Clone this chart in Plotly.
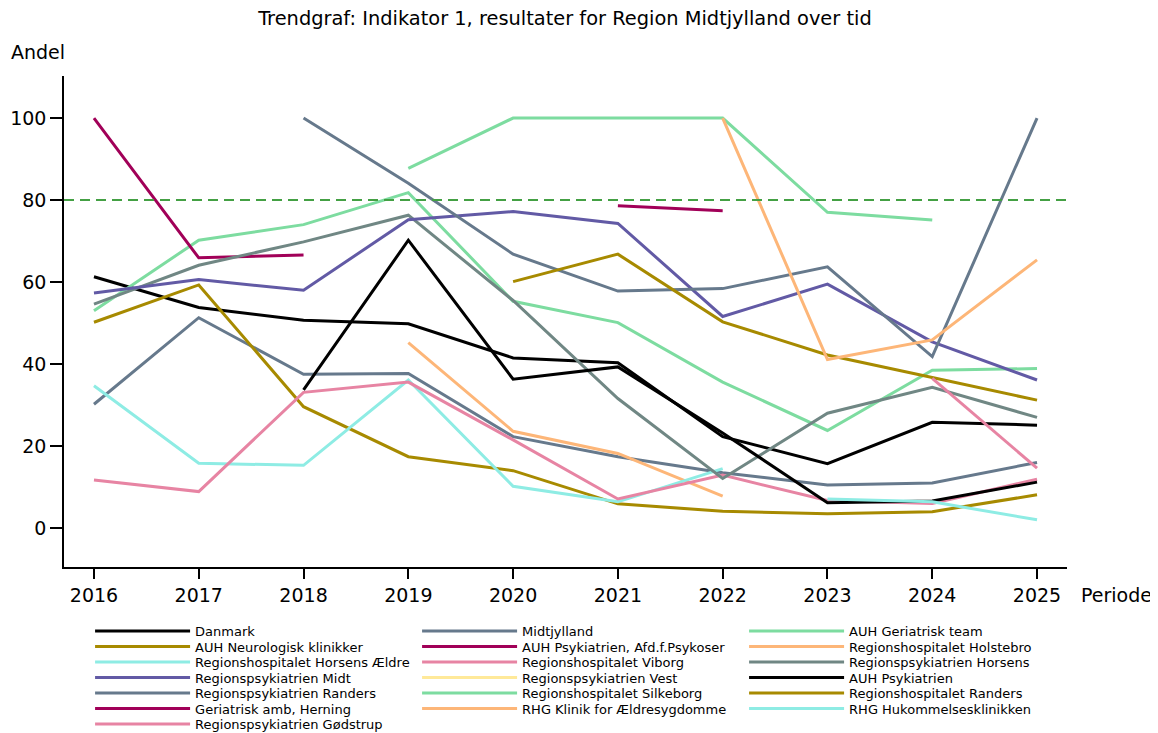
import plotly.graph_objects as go

years = [2016, 2017, 2018, 2019, 2020, 2021, 2022, 2023, 2024, 2025]
N = None

series_names = [
    "Danmark", "Midtjylland", "AUH Geriatrisk team",
    "AUH Neurologisk klinikker", "AUH Psykiatrien, Afd.f.Psykoser", "Regionshospitalet Holstebro",
    "Regionshospitalet Horsens Ældre", "Regionshospitalet Viborg", "Regionspsykiatrien Horsens",
    "Regionspsykiatrien Midt", "Regionspsykiatrien Vest", "AUH Psykiatrien",
    "Regionspsykiatrien Randers", "Regionshospitalet Silkeborg", "Regionshospitalet Randers",
    "Geriatrisk amb, Herning", "RHG Klinik for Ældresygdomme", "RHG Hukommelsesklinikken",
    "Regionspsykiatrien Gødstrup",
]

danmark = [61.3, 53.8, 50.7, 49.8, 41.5, 40.3, 22.3, 15.7, 25.8, 25.1]
midtjylland = [30.2, 51.3, 37.5, 37.7, 22.3, 17.4, 13.5, 10.5, 11.0, 16.0]
auh_geriatrisk = [53.0, 70.2, 74.0, 81.8, 55.3, 50.1, 35.6, 23.8, 38.5, 38.9]
auh_neuro = [50.2, 59.3, 29.6, 17.4, 14.0, 5.9, 4.1, 3.5, 4.0, 8.1]
auh_psyk_afd = [100.0, 65.9, 66.6, N, N, N, N, N, N, N]
holstebro = [N, N, N, 45.2, 23.6, 18.2, 7.8, N, N, N]
horsens_aeldre = [34.7, 15.8, 15.3, 36.1, 10.2, 6.4, 14.5, N, N, N]
viborg = [11.7, 8.9, 33.1, 35.6, 21.5, 7.1, 12.9, 6.7, 6.0, 11.9]
rpsyk_horsens = [54.6, 64.1, 69.8, 76.3, 55.5, 31.6, 12.1, 28.0, 34.3, 27.0]
rpsyk_midt = [57.3, 60.6, 58.0, 75.2, 77.2, 74.3, 51.6, 59.5, 45.4, 36.1]
rpsyk_vest = [N, N, N, N, N, N, N, N, N, N]
auh_psykiatrien = [N, N, 33.7, 70.2, 36.3, 39.3, 23.2, 6.2, 6.6, 11.2]
rpsyk_randers = [N, N, 100.0, 84.1, 66.8, 57.8, 58.4, 63.7, 41.8, 100.0]
silkeborg = [N, N, N, 87.7, 100.0, 100.0, 100.0, 77.0, 75.1, N]
hosp_randers = [N, N, N, N, 60.1, 66.8, 50.3, 42.2, 36.7, 31.2]
herning = [N, N, N, N, N, 78.6, 77.4, N, N, N]
rhg_klinik = [N, N, N, N, N, N, 100.0, 41.1, 45.9, 65.4]
rhg_hukommelse = [N, N, N, N, N, N, N, 7.1, 6.4, 2.0]
godstrup = [N, N, N, N, N, N, N, N, 36.5, 14.6]

series_values = [
    danmark, midtjylland, auh_geriatrisk, auh_neuro, auh_psyk_afd, holstebro,
    horsens_aeldre, viborg, rpsyk_horsens, rpsyk_midt, rpsyk_vest, auh_psykiatrien,
    rpsyk_randers, silkeborg, hosp_randers, herning, rhg_klinik, rhg_hukommelse, godstrup,
]

palette = ["#000000", "#66798C", "#7DDCA0", "#A78A00", "#A10058", "#FDB678",
           "#8EECE4", "#E784A3", "#708784", "#625AA5", "#FFE999"]

target = 80
y_ticks = [0, 20, 40, 60, 80, 100]
font_family = "DejaVu Sans"
FS = 19
LEGEND_COLS = 3
LEGEND_TOP = -0.1303      # paper y of first legend row
LEGEND_STEP = 0.0316      # paper distance between legend rows


def legend_id(row):
    return "legend" if row == 0 else f"legend{row + 1}"


fig = go.Figure()
for i, (name, vals) in enumerate(zip(series_names, series_values)):
    fig.add_trace(go.Scatter(
        x=years, y=vals, name=name, mode="lines",
        line=dict(color=palette[i % len(palette)], width=3),
        connectgaps=False, legend=legend_id(i // LEGEND_COLS),
    ))

fig.add_hline(y=target, line=dict(color="#44A044", width=2, dash="10px,6px"))

n_rows = (len(series_names) + LEGEND_COLS - 1) // LEGEND_COLS
legend_layouts = {}
for r in range(n_rows):
    legend_layouts[legend_id(r)] = dict(
        orientation="h", x=0.026, xanchor="left",
        y=LEGEND_TOP - r * LEGEND_STEP, yanchor="middle",
        entrywidth=217, entrywidthmode="pixels", itemwidth=95,
        font=dict(size=13, family=font_family), tracegroupgap=0,
        bgcolor="rgba(0,0,0,0)",
    )

fig.update_layout(
    width=1150, height=725,
    margin=dict(l=56, r=91, t=68, b=166, autoexpand=False),
    plot_bgcolor="white", paper_bgcolor="white",
    font=dict(family=font_family, size=FS, color="black"),
    title=dict(text="Trendgraf: Indikator 1, resultater for Region Midtjylland over tid",
               x=0.4843, xanchor="center", y=0.986, yanchor="middle",
               font=dict(size=19.4, family=font_family)),
    showlegend=True,
    xaxis=dict(range=[2015.714, 2025.286], tickmode="array", tickvals=years,
               ticktext=[str(y) for y in years], showline=True, linecolor="black",
               linewidth=1.5, ticks="outside", ticklen=10, tickwidth=1.5, tickcolor="black",
               showgrid=False, zeroline=False, tickfont=dict(size=FS)),
    yaxis=dict(range=[-9.5, 110.25], tickmode="array", tickvals=y_ticks,
               showline=True, linecolor="black", linewidth=1.5, ticks="outside",
               ticklen=12, tickwidth=1.5, tickcolor="black", showgrid=False,
               zeroline=False, tickfont=dict(size=FS)),
    annotations=[
        dict(text="Andel", xref="paper", yref="paper", x=-0.055, y=1.049,
             xanchor="left", yanchor="middle", showarrow=False, font=dict(size=FS)),
        dict(text="Periode", xref="paper", yref="paper", x=1.012, y=-0.057,
             xanchor="left", yanchor="middle", showarrow=False, font=dict(size=FS)),
    ],
    **legend_layouts,
)

fig.write_html("out.html")
